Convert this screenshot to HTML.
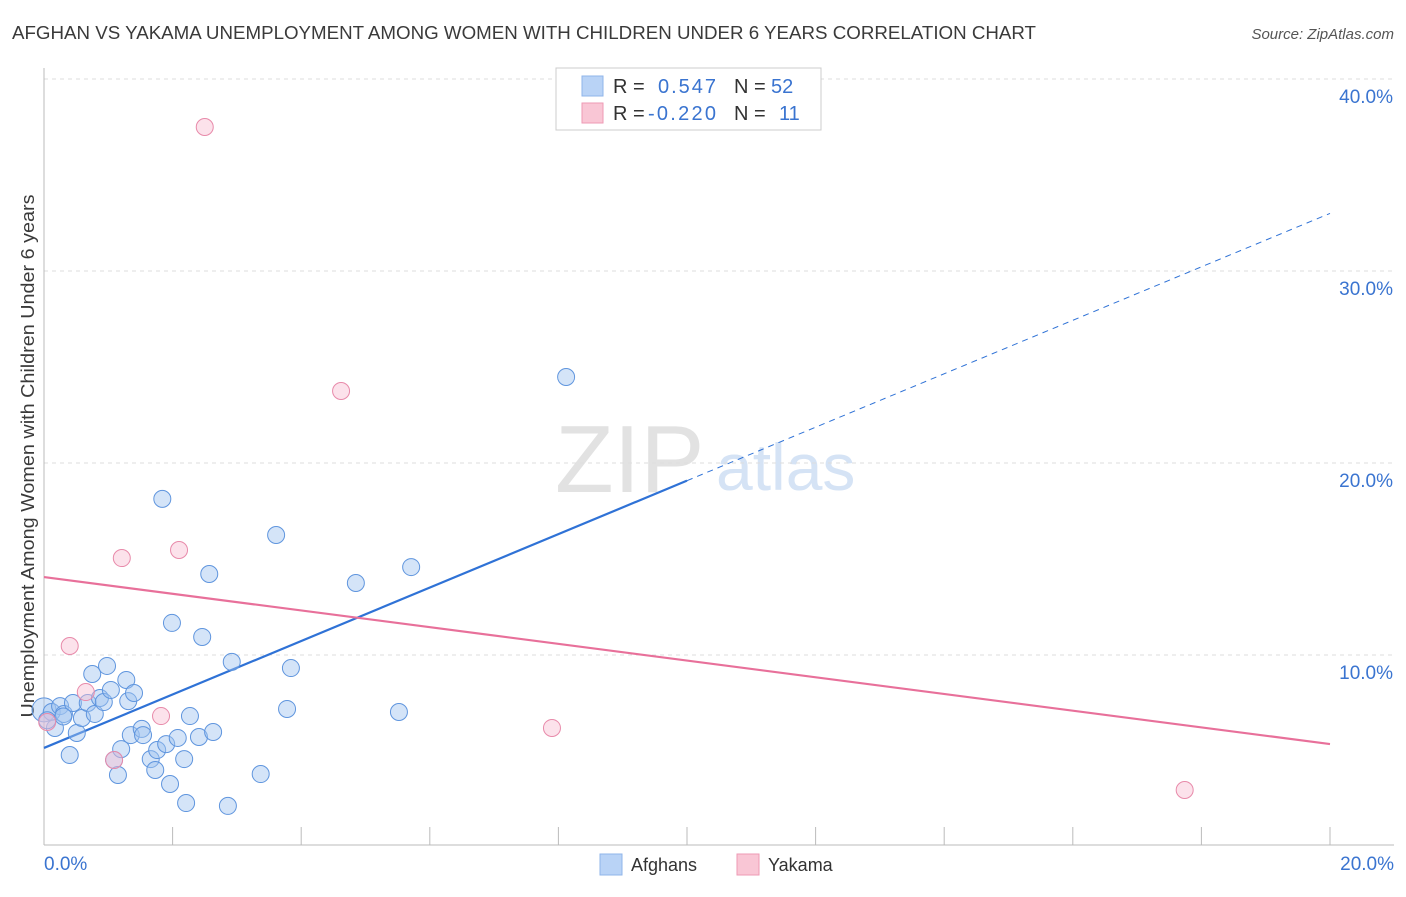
<!DOCTYPE html>
<html><head><meta charset="utf-8"><style>
body{margin:0;background:#fff;font-family:"Liberation Sans",sans-serif;}
svg text{font-family:"Liberation Sans",sans-serif;}
</style></head><body>
<svg id="chart" width="1406" height="892">
<text x="12" y="39" font-size="18" fill="#3a3a3a" textLength="1024" lengthAdjust="spacingAndGlyphs">AFGHAN VS YAKAMA UNEMPLOYMENT AMONG WOMEN WITH CHILDREN UNDER 6 YEARS CORRELATION CHART</text>
<text x="1394" y="39" font-size="15" fill="#555" text-anchor="end" font-style="italic">Source: ZipAtlas.com</text>
<text x="34" y="456" font-size="18" fill="#3a3a3a" text-anchor="middle" textLength="523" lengthAdjust="spacingAndGlyphs" transform="rotate(-90 34 456)">Unemployment Among Women with Children Under 6 years</text>
<text x="555" y="492" font-size="96" fill="#e2e2e2" font-family="Liberation Serif">ZIP</text>
<text x="716" y="490" font-size="66" fill="#d5e3f5">atlas</text>
<g id="grid"></g><g id="ticks"></g><g id="lines"></g><g id="pts"></g>
<g>
<rect x="556" y="68" width="265" height="62" fill="#fff" stroke="#ccc"/>
<rect x="582" y="76" width="21" height="20" fill="#b9d3f6" stroke="#8fb4ea"/>
<rect x="582" y="103" width="21" height="20" fill="#f9c6d5" stroke="#ee9ab4"/>
<text x="613" y="93" font-size="20" fill="#333">R =</text><text x="658" y="93" font-size="20" fill="#3a74d0" textLength="58">0.547</text>
<text x="734" y="93" font-size="20" fill="#333">N =</text><text x="771" y="93" font-size="20" fill="#3a74d0">52</text>
<text x="613" y="120" font-size="20" fill="#333">R =</text><text x="648" y="120" font-size="20" fill="#3a74d0" textLength="68">-0.220</text>
<text x="734" y="120" font-size="20" fill="#333">N =</text><text x="779" y="120" font-size="20" fill="#3a74d0">11</text>
</g>
<g>
<rect x="600" y="854" width="22" height="21" fill="#b9d3f6" stroke="#8fb4ea"/>
<text x="631" y="871" font-size="18" fill="#333">Afghans</text>
<rect x="737" y="854" width="22" height="21" fill="#f9c6d5" stroke="#ee9ab4"/>
<text x="768" y="871" font-size="18" fill="#333">Yakama</text>
</g>
</svg>
<script>
const afX=[0.00,0.12,0.17,0.25,0.31,0.40,0.45,0.51,0.59,0.68,0.75,0.79,0.87,0.93,0.98,1.04,1.09,1.15,1.20,1.28,1.31,1.40,1.35,1.52,1.54,1.66,1.73,1.76,1.84,1.90,1.96,1.99,2.08,2.18,2.21,2.27,2.41,2.46,2.57,2.63,2.86,2.92,3.37,3.61,3.78,3.84,4.85,5.52,5.71,8.12,0.05,0.30];
const afY=[7.14,7.03,6.20,7.34,6.93,4.79,7.50,5.94,6.72,7.50,9.01,6.93,7.76,7.55,9.43,8.18,4.53,3.75,5.10,8.70,7.60,8.02,5.83,6.15,5.83,4.58,4.01,5.05,18.13,5.36,3.28,11.67,5.68,4.58,2.29,6.82,5.73,10.94,14.22,5.99,2.14,9.64,3.80,16.25,7.19,9.32,13.75,7.03,14.58,24.48,6.60,6.80];
const yaX=[0.05,0.65,0.40,1.09,1.21,1.82,2.10,2.50,4.62,7.90,17.74];
const yaY=[6.51,8.07,10.47,4.53,15.05,6.82,15.47,37.50,23.75,6.20,2.97];
const afTrend=[5.16,33.0], yaTrend=[14.06,5.36];
const yTicks=[10,20,30,40];
const xTickLabels=["0.0%","20.0%"];
const NS="http://www.w3.org/2000/svg";
const sx=v=>44+v/20*1286, sy=v=>847-v*19.2;
function mk(t,a,p){const e=document.createElementNS(NS,t);for(const k in a)e.setAttribute(k,a[k]);document.getElementById(p).appendChild(e);return e;}
yTicks.forEach(t=>{
 const l=mk('line',{x1:44,x2:1394,y1:sy(t),y2:sy(t),stroke:'#ddd','stroke-dasharray':'4,4'},'grid');
 
 
 const tx=mk('text',{x:1393,y:sy(t)+24,'font-size':19,fill:'#3a74d0','text-anchor':'end'},'ticks');tx.textContent=t.toFixed(1)+'%';
 
 
});
mk('line',{x1:44,x2:44,y1:68,y2:845,stroke:'#bbb'},'grid');
mk('line',{x1:44,x2:1394,y1:845,y2:845,stroke:'#bbb'},'grid');
for(let i=0;i<=10;i++){const l=mk('line',{x1:sx(i*2),x2:sx(i*2),y1:827,y2:845,stroke:'#bbb'},'grid');
 
 }
[[0,'start',44],[20,'end',1394]].forEach((d,i)=>{const tx=mk('text',{x:d[2],y:870,'font-size':19,fill:'#3a74d0','text-anchor':d[1]},'ticks');tx.textContent=xTickLabels[i];
 
 });
const bm=v=>afTrend[0]+(afTrend[1]-afTrend[0])*v/20;
let l1=mk('line',{x1:sx(0),y1:sy(bm(0)),x2:sx(10),y2:sy(bm(10)),stroke:'#2f72d6','stroke-width':2.2},'lines');


let l2=mk('line',{x1:sx(10),y1:sy(bm(10)),x2:sx(20),y2:sy(bm(20)),stroke:'#2f72d6','stroke-width':1,'stroke-dasharray':'6,5'},'lines');


let l3=mk('line',{x1:sx(0),y1:sy(yaTrend[0]),x2:sx(20),y2:sy(yaTrend[1]),stroke:'#e8709a','stroke-width':2.2},'lines');


afX.forEach((x,i)=>{const c=mk('circle',{cx:sx(x),cy:sy(afY[i]),r:i==0?12:8.5,fill:'rgba(160,195,240,0.45)',stroke:'#5f95de','stroke-width':1},'pts');
 
 });
yaX.forEach((x,i)=>{const c=mk('circle',{cx:sx(x),cy:sy(yaY[i]),r:8.5,fill:'rgba(248,190,210,0.45)',stroke:'#e88aaa','stroke-width':1},'pts');
 
 });
</script>
</body></html>
